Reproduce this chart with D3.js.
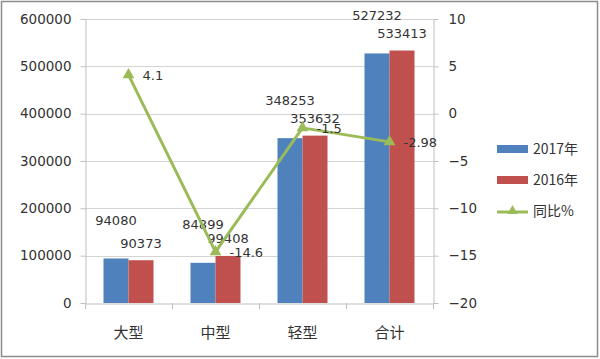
<!DOCTYPE html>
<html><head><meta charset="utf-8">
<script src="https://cdn.jsdelivr.net/npm/d3@7/dist/d3.min.js"></script>
<style>body{margin:0;background:#fff}svg{display:block}</style>
</head><body>
<svg id="c" width="600" height="359"></svg>
<script>
const categories = ["大型", "中型", "轻型", "合计"];
const seriesNames = ["2017年", "2016年"];
const values2017 = [94080, 84899, 348253, 527232];
const values2016 = [90373, 99408, 353632, 533413];
const yoy = [4.1, -14.6, -1.5, -2.98];
const yoyName = "同比%";
const leftTicks = [0, 100000, 200000, 300000, 400000, 500000, 600000];
const rightTicks = [-20, -15, -10, -5, 0, 5, 10];

const colors = ["#4F81BD", "#C0504D"];
const green = "#9BBB59";
const svg = d3.select("#c");
const numFont = "DejaVu Sans, sans-serif";
const cjkFont = "Noto Sans CJK SC, sans-serif";

svg.append("rect").attr("x",1.5).attr("y",1.5).attr("width",596).attr("height",355)
  .attr("fill","#fff").attr("stroke","#8c8c8c").attr("stroke-width",1.5);

const x0 = d3.scaleBand().domain(categories).range([85,433]);
const x1 = d3.scaleBand().domain(seriesNames).range([0,50]);
const yL = d3.scaleLinear().domain([0,600000]).range([303,19]);
const yR = d3.scaleLinear().domain([-20,10]).range([303,19]);
const off = (x0.bandwidth()-50)/2;

// gridlines
svg.append("g").selectAll("line").data(leftTicks.filter(d=>d>0)).join("line")
  .attr("x1",85).attr("x2",433).attr("y1",d=>Math.round(yL(d))+0.5).attr("y2",d=>Math.round(yL(d))+0.5)
  .attr("stroke","#d4d4d4");

// left axis
const gl = svg.append("g").attr("transform","translate(85.5,0)")
  .call(d3.axisLeft(yL).tickValues(leftTicks).tickFormat(d3.format("d")).tickSizeOuter(0).tickSizeInner(5).tickPadding(9));
gl.select(".domain").attr("stroke","#bfbfbf");
gl.selectAll(".tick line").attr("stroke","#bfbfbf");
gl.selectAll("text").attr("font-family",numFont).attr("font-size","13.5px").attr("fill","#333");

// right axis
const gr = svg.append("g").attr("transform","translate(433.5,0)")
  .call(d3.axisRight(yR).tickValues(rightTicks).tickFormat(d3.format("d")).tickSizeOuter(0).tickSizeInner(5).tickPadding(10));
gr.select(".domain").attr("stroke","#bfbfbf");
gr.selectAll(".tick line").attr("stroke","#bfbfbf");
gr.selectAll("text").attr("font-family",numFont).attr("font-size","13.5px").attr("fill","#333");

// bottom axis
const gb = svg.append("g").attr("transform","translate(0,303.5)")
  .call(d3.axisBottom(x0).tickSize(0).tickPadding(24));
gb.select(".domain").attr("stroke","#bfbfbf");
gb.selectAll("text").attr("font-family",cjkFont).attr("font-size","15px").attr("fill","#333");
svg.append("g").selectAll("line").data(d3.range(categories.length+1)).join("line")
  .attr("x1",i=>Math.round(85+i*x0.step())+0.5).attr("x2",i=>Math.round(85+i*x0.step())+0.5)
  .attr("y1",303).attr("y2",309).attr("stroke","#bfbfbf");

// bars
const rows = categories.map((c,i)=>({c, vals:[values2017[i], values2016[i]]}));
const groups = svg.append("g").selectAll("g").data(rows).join("g")
  .attr("transform",d=>`translate(${x0(d.c)+off},0)`);
groups.selectAll("rect").data(d=>d.vals.map((v,j)=>({v,s:seriesNames[j],j}))).join("rect")
  .attr("x",d=>x1(d.s)).attr("width",x1.bandwidth())
  .attr("y",d=>yL(d.v)).attr("height",d=>303-yL(d.v))
  .attr("fill",d=>colors[d.j]);
groups.selectAll("text").data(d=>d.vals.map((v,j)=>({v,s:seriesNames[j],j}))).join("text")
  .attr("x",d=>x1(d.s)+x1.bandwidth()/2)
  .attr("y",d=>yL(d.v)-(d.j===0?38:17))
  .attr("dy","0.35em").attr("text-anchor","middle")
  .attr("font-family",numFont).attr("font-size","13px").attr("fill","#333")
  .text(d=>d.v);

// line
const pts = categories.map((c,i)=>({x:x0(c)+x0.bandwidth()/2, y:yR(yoy[i]), v:yoy[i]}));
svg.append("path").datum(pts)
  .attr("d",d3.line().x(d=>d.x).y(d=>d.y))
  .attr("fill","none").attr("stroke",green).attr("stroke-width",3).attr("stroke-linejoin","round");
svg.append("g").selectAll("path").data(pts).join("path")
  .attr("transform",d=>`translate(${d.x},${d.y})`)
  .attr("d",d3.symbol(d3.symbolTriangle,60)).attr("fill",green);
svg.append("g").selectAll("text").data(pts).join("text")
  .attr("x",d=>d.x+14).attr("y",d=>d.y+1).attr("dy","0.35em")
  .attr("font-family",numFont).attr("font-size","13px").attr("fill","#333")
  .text(d=>d.v);

// legend
const lg = svg.append("g");
seriesNames.forEach((s,i)=>{
  const y = 149 + i*31;
  lg.append("rect").attr("x",497).attr("y",y-4).attr("width",31).attr("height",8).attr("fill",colors[i]);
  lg.append("text").attr("x",533).attr("y",y).attr("dy","0.35em")
    .attr("font-family",cjkFont).attr("font-size","14px").attr("fill","#333").text(s);
});
lg.append("line").attr("x1",497).attr("x2",528).attr("y1",212).attr("y2",212).attr("stroke",green).attr("stroke-width",3);
lg.append("path").attr("transform","translate(512.5,211)").attr("d",d3.symbol(d3.symbolTriangle,45)).attr("fill",green);
lg.append("text").attr("x",533).attr("y",211).attr("dy","0.35em")
  .attr("font-family",cjkFont).attr("font-size","14px").attr("fill","#333").text(yoyName);
</script>
</body></html>
